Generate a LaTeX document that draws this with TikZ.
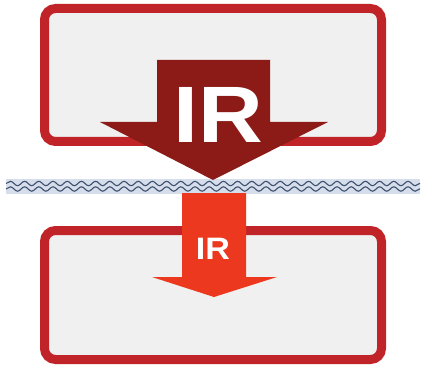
\documentclass[tikz,border=0pt]{standalone}
\usepackage{fontspec}
\setsansfont{Liberation Sans}
\usetikzlibrary{decorations.pathmorphing}

\definecolor{boxred}{RGB}{192,36,40}
\definecolor{boxfill}{RGB}{240,240,240}
\definecolor{darkarrow}{RGB}{140,26,22}
\definecolor{redarrow}{RGB}{236,56,30}
\definecolor{waveline}{RGB}{62,80,110}
\definecolor{waveband}{RGB}{214,222,236}

\begin{document}
\begin{tikzpicture}[
  x=1pt, y=-1pt,
  font=\sffamily\bfseries,
  box/.style={draw=boxred, fill=boxfill, line width=9pt, rounded corners=11pt, minimum width=337pt},
  label/.style={text=white, inner sep=0pt},
  wave/.style={draw=waveline, line width=1.1pt, decorate, decoration={snake, segment length=14.2pt, amplitude=2.2pt}}
]
\useasboundingbox (0,0) rectangle (421,369);

% the two layers
\node[box, minimum height=133pt] (upper) at (213,75) {};
\node[box, minimum height=129pt] (lower) at (213,295) {};

% boundary
\fill[waveband] (6,179) rectangle (420,194);
\coordinate (wl) at (6,183.5);
\coordinate (wr) at (420,183.5);
\draw[wave] (wl) -- (wr);
\draw[wave] ([yshift=-5.5pt]wl) -- ([yshift=-5.5pt]wr);

% incident and transmitted radiation
\fill[darkarrow] (157,60) -- (270,60) -- (270,122) -- (328,122) -- (213,180)
  -- (100,122) -- (157,122) -- cycle;
\fill[redarrow] (182,193) -- (246,193) -- (246,277) -- (277,277) -- (214,297)
  -- (152,277) -- (182,277) -- cycle;

\node[label, font=\sffamily\bfseries\fontsize{80}{80}\selectfont] (bigir) at (218,115) {\scalebox{1.12}[1]{IR}};
\node[label, font=\sffamily\bfseries\fontsize{31}{31}\selectfont] (smallir) at (213,249) {\scalebox{1.1}[1]{IR}};

\end{tikzpicture}
\end{document}
